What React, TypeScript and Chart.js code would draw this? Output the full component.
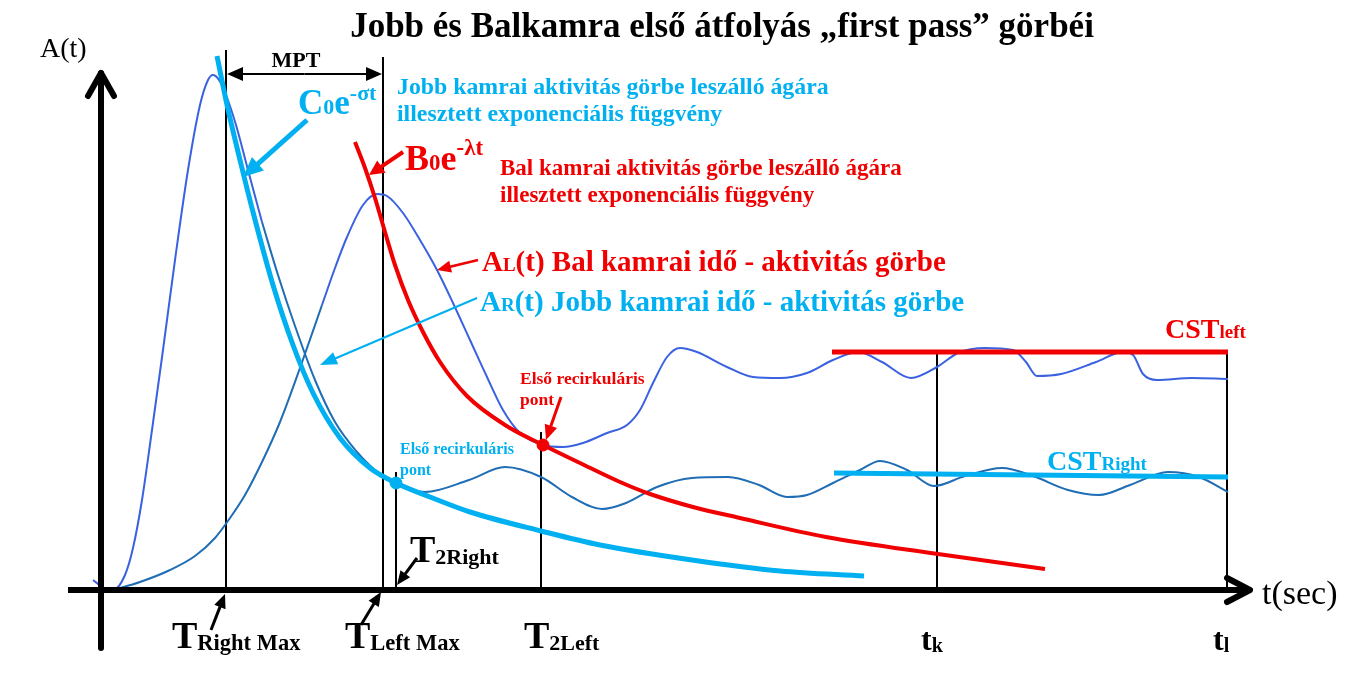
import React, { useEffect, useRef } from "react";
import { Chart, registerables } from "chart.js";
Chart.register(...registerables);

// ---- DATA (t = time units, A = activity units) ----
// Right ventricle A_R(t): first pass part (rise + peak + early fall)
const arEarlyT = [-0.7, 0.4, 1.3, 2.5, 3.3, 4.2, 5.2, 6.3, 7.5, 8.8, 10, 10.8, 11.3, 11.9, 12.6, 13.6, 14.8, 16.2];
const arEarlyA = [2, 0.4, 0, 3, 8.4, 18, 32, 48, 66, 84, 97, 102, 103, 102, 99, 93, 84, 73.6];
// Right ventricle A_R(t): later fall + recirculation
const arTailT = [16.2, 17.8, 19.5, 21.5, 23.5, 25.7, 27.5, 29.6, 32.5, 36.9, 40.5, 44.1, 47.2, 50.2, 52.6, 55.7, 59.2, 62.8, 65.9, 68.7, 70.7, 73.3, 76, 78, 80.7, 83.4, 86.5, 90.2, 93.3, 96.8, 99.9, 103, 106.8, 109.9, 112.8];
const arTailA = [73.6, 63, 52.8, 42, 33.6, 27.6, 24, 21.4, 19.6, 22, 24.6, 22.6, 18.6, 16.2, 17.4, 20.6, 22.4, 22.6, 21, 18.6, 19, 21.4, 24, 25.8, 24, 20.8, 22.8, 24.4, 22.8, 20, 19, 21, 23.6, 22.6, 19.6];
// Left ventricle A_L(t): rise
const alRiseT = [1.3, 4, 7, 9.5, 11.5, 13, 14.5, 16.2, 18, 20, 22.2];
const alRiseA = [0, 1.6, 4, 6.8, 10.4, 14.4, 19, 25.6, 33.6, 44.4, 57];
// Left ventricle A_L(t): peak, fall + recirculation
const alPeakT = [22.2, 23.5, 24.7, 26.3, 27.7, 28.7, 30.3, 32, 33.7, 35.3, 37, 38.7, 40.3, 42, 44.3, 46.3, 48.3, 50.7, 52.7, 54, 55.3, 56.7, 58, 59.7, 62.7, 65.3, 68, 70.7, 73.3, 75.8, 78.2, 81.1, 83.7, 85.8, 88.5, 91.3, 92.6, 93.7, 96.1, 99.6, 102.3, 103.3, 104.3, 105.7, 109.2, 112.8];
const alPeakA = [57, 64.4, 70.6, 77, 79.2, 78.8, 75.4, 70, 64, 57.4, 50, 42.6, 36, 31.4, 29, 28.6, 29.4, 31.4, 33, 36, 41.4, 46.6, 48.4, 47.6, 44.6, 42.6, 42.4, 43.4, 46, 47.6, 45.6, 42.4, 44.6, 47.4, 48.4, 48, 45.6, 42.8, 43.2, 45.6, 47.6, 47, 43.2, 42, 42.4, 42.2];
// Fitted exponential C0 e^{-σt} (right)
const fitRightT = [11.7, 12.7, 14, 15.3, 17.3, 19.3, 21.3, 24, 27, 29.6, 33, 37, 44.1, 50, 59.2, 68, 76.4];
const fitRightA = [106.8, 97, 86, 75.6, 61, 49, 39.4, 30.4, 24.4, 21.4, 18.6, 15.6, 11.8, 9, 6, 3.8, 2.8];
// Fitted exponential B0 e^{-λt} (left)
const fitLeftT = [25.5, 26.5, 27.5, 28.5, 29.5, 30.8, 32.3, 34, 36.7, 40.5, 44.3, 48, 52, 55, 59.3, 64, 72.6, 83.8, 94.5];
const fitLeftA = [89.6, 84.4, 78.4, 71.6, 65, 58, 51.6, 45.6, 38.8, 33, 29, 25.4, 21.6, 19.2, 16.6, 14.4, 10.6, 7.2, 4.2];
// Steady-state levels
const cstLeftT = [73.2, 112.8];
const cstLeftA = [47.6, 47.6];
const cstRightT = [73.4, 112.8];
const cstRightA = [23.4, 22.6];
// First recirculation points
const recircRightT = [29.6];
const recircRightA = [21.4];
const recircLeftT = [44.3];
const recircLeftA = [29];
// Time markers: T_RightMax, T_LeftMax, T_2Right, T_2Left, t_k, t_l
const markerT = [12.6, 28.3, 29.6, 44.1, 83.7, 112.7];
const markerTop = [108, 106.6, 23.6, 31.6, 47.6, 47.6];

const FONT = "'Liberation Serif', 'Times New Roman', serif";
const CYAN = "#00b0f0";
const RED = "#f00000";
const ROYAL = "#3a62e0";
const STEEL = "#1f6db5";

const zip = (t: number[], a: number[]) => t.map((x, i) => ({ x, y: a[i] }));

type Part = { s: string; size: number; dy?: number };
function rich(ctx: CanvasRenderingContext2D, x: number, y: number, color: string, parts: Part[], bold = true) {
  ctx.save();
  ctx.fillStyle = color;
  ctx.textBaseline = "alphabetic";
  ctx.textAlign = "left";
  let cx = x;
  for (const p of parts) {
    ctx.font = `${bold ? "bold " : ""}${p.size}px ${FONT}`;
    ctx.fillText(p.s, cx, y + (p.dy || 0));
    cx += ctx.measureText(p.s).width;
  }
  ctx.restore();
  return cx;
}

function arrow(ctx: CanvasRenderingContext2D, x1: number, y1: number, x2: number, y2: number, color: string, lw: number, hl: number, hw: number) {
  const ang = Math.atan2(y2 - y1, x2 - x1);
  ctx.save();
  ctx.strokeStyle = color;
  ctx.fillStyle = color;
  ctx.lineWidth = lw;
  const bx = x2 - hl * Math.cos(ang);
  const by = y2 - hl * Math.sin(ang);
  ctx.beginPath();
  ctx.moveTo(x1, y1);
  ctx.lineTo(bx + 0.5 * Math.cos(ang), by + 0.5 * Math.sin(ang));
  ctx.stroke();
  ctx.beginPath();
  ctx.moveTo(x2, y2);
  ctx.lineTo(bx + (hw / 2) * Math.sin(ang), by - (hw / 2) * Math.cos(ang));
  ctx.lineTo(bx - (hw / 2) * Math.sin(ang), by + (hw / 2) * Math.cos(ang));
  ctx.closePath();
  ctx.fill();
  ctx.restore();
}

const overlay = {
  id: "overlay",
  afterDatasetsDraw(chart: any) {
    const ctx: CanvasRenderingContext2D = chart.ctx;
    const xs = chart.scales.x;
    const ys = chart.scales.y;
    const x0 = xs.getPixelForValue(0);
    const y0 = ys.getPixelForValue(0);

    // axes
    ctx.save();
    ctx.strokeStyle = "#000";
    ctx.lineWidth = 6;
    ctx.lineCap = "round";
    ctx.lineJoin = "round";
    ctx.beginPath();
    ctx.moveTo(x0 + 1, 648);
    ctx.lineTo(x0 + 1, 73);
    ctx.stroke();
    ctx.beginPath();
    ctx.moveTo(x0 - 12, 96);
    ctx.lineTo(x0 + 1, 73);
    ctx.lineTo(x0 + 14, 96);
    ctx.stroke();
    ctx.lineCap = "butt";
    ctx.beginPath();
    ctx.moveTo(68, y0);
    ctx.lineTo(1249, y0);
    ctx.stroke();
    ctx.lineCap = "round";
    ctx.beginPath();
    ctx.moveTo(1227, y0 - 12);
    ctx.lineTo(1250, y0);
    ctx.lineTo(1227, y0 + 12);
    ctx.stroke();
    ctx.restore();

    // MPT double arrow
    const xa = xs.getPixelForValue(markerT[0]);
    const xb = xs.getPixelForValue(markerT[1]);
    const ym = 74;
    const mid = (xa + xb) / 2;
    arrow(ctx, mid, ym, xa + 1, ym, "#000", 2, 16, 14);
    arrow(ctx, mid, ym, xb - 1, ym, "#000", 2, 16, 14);

    // annotation arrows
    arrow(ctx, 307, 120, 243, 177, CYAN, 5, 20, 18);
    arrow(ctx, 403, 152, 369, 175, RED, 4, 15, 15);
    arrow(ctx, 478, 260, 437, 270, RED, 2.5, 14, 12);
    arrow(ctx, 477, 298, 320, 365, CYAN, 2, 17, 13);
    arrow(ctx, 561, 397, 546, 440, RED, 3, 15, 13);
    arrow(ctx, 211, 630, 225, 594, "#000", 3, 14, 12);
    arrow(ctx, 361, 625, 381, 592, "#000", 3, 14, 12);
    arrow(ctx, 417, 558, 397, 585, "#000", 3, 14, 12);

    // title
    ctx.save();
    ctx.fillStyle = "#000";
    ctx.textAlign = "center";
    ctx.textBaseline = "alphabetic";
    ctx.font = `bold 35px ${FONT}`;
    ctx.fillText("Jobb és Balkamra első átfolyás „first pass” görbéi", 722, 37);
    ctx.font = `bold 22px ${FONT}`;
    ctx.fillText("MPT", 296, 67);
    ctx.restore();

    rich(ctx, 40, 57, "#000", [{ s: "A(t)", size: 28 }], false);
    rich(ctx, 1262, 604, "#000", [{ s: "t(sec)", size: 34 }], false);

    rich(ctx, 298, 114, CYAN, [
      { s: "C", size: 35 },
      { s: "0", size: 22 },
      { s: "e", size: 35 },
      { s: "-σt", size: 22, dy: -14 },
    ]);
    rich(ctx, 397, 94, CYAN, [{ s: "Jobb kamrai aktivitás görbe leszálló ágára", size: 23.8 }]);
    rich(ctx, 397, 121, CYAN, [{ s: "illesztett exponenciális függvény", size: 23.8 }]);

    rich(ctx, 405, 170, RED, [
      { s: "B", size: 36 },
      { s: "0", size: 23 },
      { s: "e", size: 36 },
      { s: "-λt", size: 23, dy: -15 },
    ]);
    rich(ctx, 500, 175, RED, [{ s: "Bal kamrai aktivitás görbe leszálló ágára", size: 23 }]);
    rich(ctx, 500, 202, RED, [{ s: "illesztett exponenciális függvény", size: 23 }]);

    rich(ctx, 482, 271, RED, [
      { s: "A", size: 29 },
      { s: "L", size: 19 },
      { s: "(t) Bal kamrai idő - aktivitás görbe", size: 29 },
    ]);
    rich(ctx, 480, 311, CYAN, [
      { s: "A", size: 29 },
      { s: "R", size: 19 },
      { s: "(t) Jobb kamrai idő - aktivitás görbe", size: 29 },
    ]);

    rich(ctx, 1165, 338, RED, [{ s: "CST", size: 28 }, { s: "left", size: 19 }]);
    rich(ctx, 1047, 470, CYAN, [{ s: "CST", size: 28 }, { s: "Right", size: 19 }]);

    rich(ctx, 520, 384, RED, [{ s: "Első recirkuláris", size: 17.5 }]);
    rich(ctx, 520, 405, RED, [{ s: "pont", size: 17.5 }]);
    rich(ctx, 400, 454, CYAN, [{ s: "Első recirkuláris", size: 16 }]);
    rich(ctx, 400, 475, CYAN, [{ s: "pont", size: 16 }]);

    rich(ctx, 410, 562, "#000", [{ s: "T", size: 38 }, { s: "2Right", size: 22, dy: 2 }]);
    rich(ctx, 172, 648, "#000", [{ s: "T", size: 38 }, { s: "Right Max", size: 22.5, dy: 2 }]);
    rich(ctx, 345, 648, "#000", [{ s: "T", size: 38 }, { s: "Left Max", size: 22.5, dy: 2 }]);
    rich(ctx, 524, 648, "#000", [{ s: "T", size: 38 }, { s: "2Left", size: 22, dy: 2 }]);
    rich(ctx, 921, 650, "#000", [{ s: "t", size: 32 }, { s: "k", size: 20, dy: 2 }]);
    rich(ctx, 1213, 650, "#000", [{ s: "t", size: 32 }, { s: "l", size: 20, dy: 2 }]);
  },
};

export default function App() {
  const ref = useRef<HTMLCanvasElement | null>(null);
  useEffect(() => {
    if (!ref.current) return;
    const line = (data: any[], color: string, width: number, order: number) => ({
      data,
      borderColor: color,
      backgroundColor: color,
      borderWidth: width,
      pointRadius: 0,
      fill: false,
      cubicInterpolationMode: "monotone" as const,
      order,
    });
    const markers = markerT.map((t, i) => ({
      data: [{ x: t, y: 0 }, { x: t, y: markerTop[i] }],
      borderColor: "#000",
      borderWidth: 2,
      pointRadius: 0,
      fill: false,
      order: 6,
    }));
    const chart = new Chart(ref.current, {
      type: "line",
      data: {
        datasets: [
          {
            data: zip(recircRightT, recircRightA),
            borderColor: CYAN,
            backgroundColor: CYAN,
            pointRadius: 6,
            showLine: false,
            order: 0,
          },
          {
            data: zip(recircLeftT, recircLeftA),
            borderColor: RED,
            backgroundColor: RED,
            pointRadius: 6,
            showLine: false,
            order: 0,
          },
          line(zip(fitLeftT, fitLeftA), RED, 4, 1),
          line(zip(fitRightT, fitRightA), CYAN, 5, 2),
          { ...line(zip(cstLeftT, cstLeftA), RED, 5, 3), cubicInterpolationMode: "default" },
          { ...line(zip(cstRightT, cstRightA), CYAN, 5, 3), cubicInterpolationMode: "default" },
          line(zip(alPeakT, alPeakA), ROYAL, 2, 4),
          line(zip(arEarlyT, arEarlyA), ROYAL, 2, 4),
          line(zip(arTailT, arTailA), STEEL, 2, 5),
          line(zip(alRiseT, alRiseA), STEEL, 2, 5),
          ...markers,
        ] as any,
      },
      options: {
        responsive: false,
        animation: false,
        devicePixelRatio: 1,
        layout: { padding: 0, autoPadding: false },
        plugins: { legend: { display: false }, tooltip: { enabled: false }, title: { display: false } },
        scales: {
          x: { type: "linear", min: -10, max: 125.9, display: false },
          y: { type: "linear", min: -19.6, max: 118, display: false },
        },
      },
      plugins: [overlay],
    });
    return () => chart.destroy();
  }, []);
  return (
    <div style={{ position: "absolute", left: 0, top: 0, width: 1359, height: 688, background: "#fff" }}>
      <canvas ref={ref} width={1359} height={688} />
    </div>
  );
}
